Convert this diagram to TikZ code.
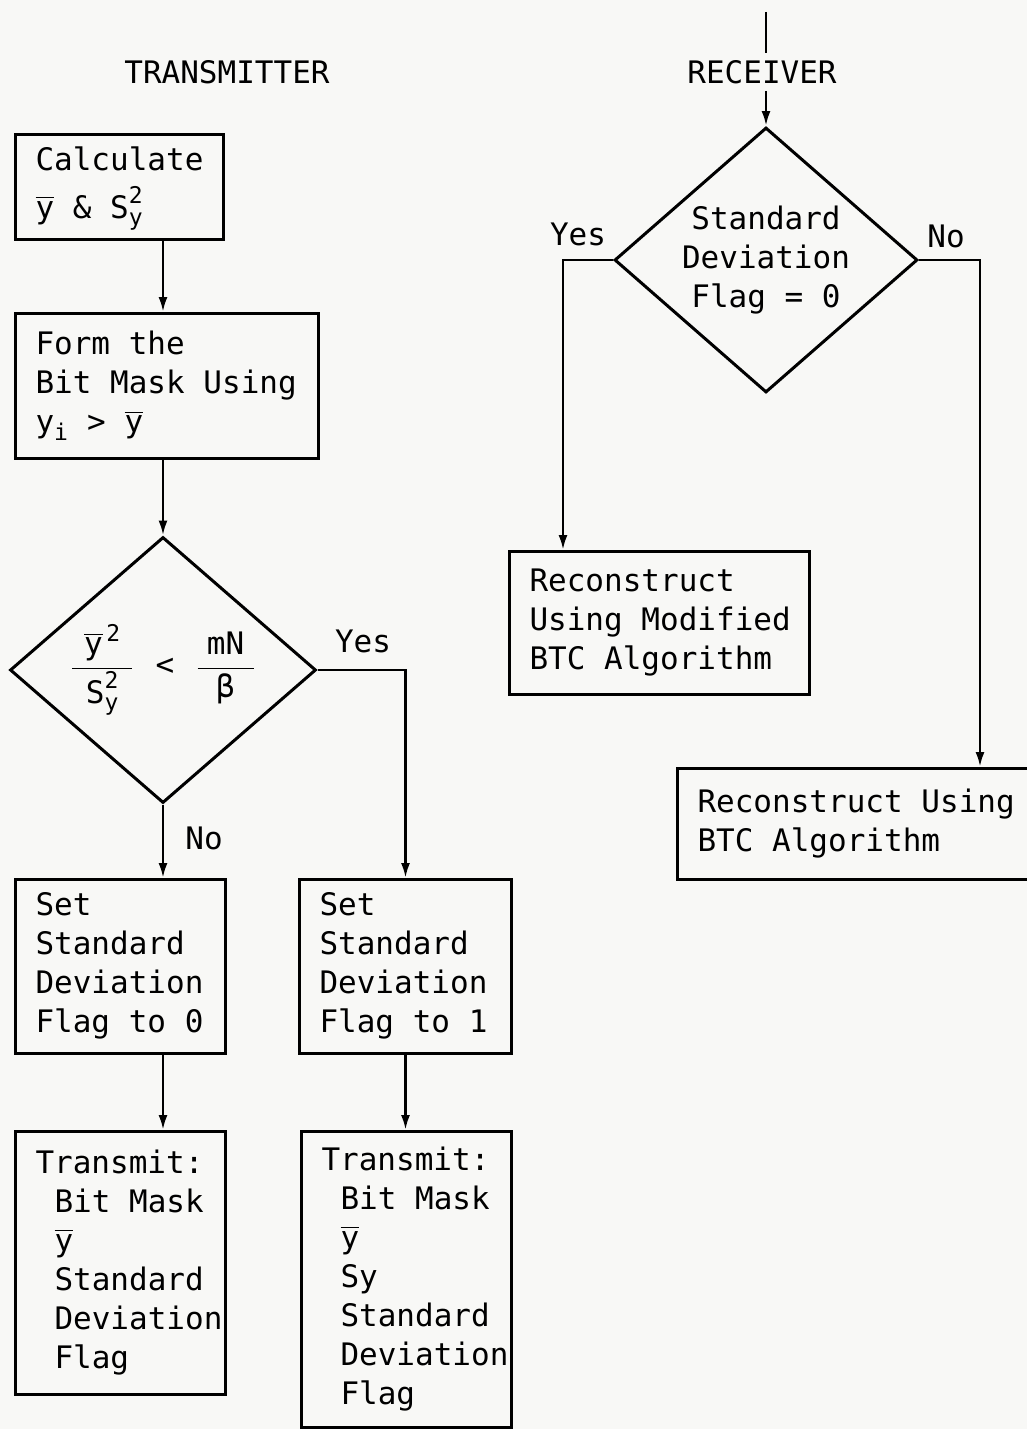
\RequirePackage{fix-cm}
\documentclass[tikz,border=0pt]{standalone}
\usepackage{amsmath}
\usepackage{fontspec}
\setmainfont{DejaVu Sans Mono}
\usetikzlibrary{shapes.geometric,arrows.meta}
\definecolor{bg}{RGB}{248,248,246}
\newcommand\sm[1]{\mbox{\fontsize{23}{23}\selectfont #1}}
\newcommand\ov{\ensuremath{\overline{\mbox{y}}}}
\newcommand\tb[2]{\makebox[#1][l]{\begin{tabular}{@{}l@{}}#2\end{tabular}}}
\newcommand\ind{\hspace*{19pt}}
\newcommand\fw[2]{\hbox to #1{\hss#2\hss}}
\begin{document}
\begin{tikzpicture}[x=1pt,y=-1pt,font=\fontsize{31}{39}\selectfont,
  box/.style={draw,line width=3pt,anchor=north west,inner xsep=20pt,inner ysep=0pt},
  dec/.style={draw,shape=diamond,line width=3pt,inner sep=0pt,align=center,shape aspect=1.14},
  lab/.style={inner sep=2pt},
  arr/.style={line width=2.6pt,-{Latex[length=15pt,width=9pt]}},
  ln/.style={line width=2.6pt}]
\fill[bg] (0,0) rectangle (1027,1429);
\useasboundingbox (0,0) rectangle (1027,1429);

% titles
\node[lab] (tlab) at (227,72) {TRANSMITTER};
\node[inner sep=7pt] (rlab) at (762,72) {RECEIVER};

% transmitter
\node[box,minimum height=105pt] (calc) at (14,133)
  {\tb{168pt}{Calculate\\[4pt]\ov{} \& $\mbox{S}^{\sm{2}}_{\sm{y}}$}};
\node[box,minimum height=145pt] (form) at (14,312)
  {\tb{263pt}{Form the\\Bit Mask Using\\$\mbox{y}_{\sm{i}}$ > \ov}};
\node[dec,minimum width=306pt,minimum height=266pt] (d1) at (163,670)
  {$\dfrac{\fw{60pt}{$\overline{\mbox{y}}^{\,\sm{2}}$}}{\fw{60pt}{$\mbox{S}^{\sm{2}}_{\sm{y}}$}}\hspace{22pt}\mbox{<}\hspace{22pt}\dfrac{\fw{56pt}{mN}}{\fw{56pt}{β}}$};
\node[box,minimum height=174pt] (set0) at (14,878)
  {\tb{170pt}{Set\\Standard\\Deviation\\Flag to 0}};
\node[box,minimum height=174pt] (set1) at (298,878)
  {\tb{172pt}{Set\\Standard\\Deviation\\Flag to 1}};
\node[box,minimum height=263pt] (tx0) at (14,1130)
  {\tb{170pt}{Transmit:\\\ind Bit Mask\\\ind\ov\\\ind Standard\\\ind Deviation\\\ind Flag}};
\node[box,minimum height=296pt] (tx1) at (300,1130)
  {\tb{170pt}{Transmit:\\\ind Bit Mask\\\ind\ov\\\ind Sy\\\ind Standard\\\ind Deviation\\\ind Flag}};

\node[lab] (yes1) at (363,641) {Yes};
\node[lab] (no1) at (204,838) {No};

\draw[arr] (calc.south -| d1.north) -- (form.north -| d1.north);
\draw[arr] (form.south -| d1.north) -- (d1.north);
\draw[arr] (d1.south) -- (d1.south |- set0.north);
\draw[arr] (d1.east) -| (set1.north);
\draw[arr] (set0.south -| d1.south) -- (tx0.north -| d1.south);
\draw[arr] (set1.south) -- (set1.south |- tx1.north);

% receiver
\node[dec,minimum width=303pt,minimum height=265pt] (d2) at (766,260)
  {Standard\\Deviation\\Flag = 0};
\node[box,minimum height=143pt] (rm) at (508,550)
  {\tb{260pt}{Reconstruct\\Using Modified\\BTC Algorithm}};
\node[box,minimum height=111pt] (rb) at (676,767)
  {\tb{360pt}{Reconstruct Using\\BTC Algorithm}};

\node[lab] (yes2) at (578,234) {Yes};
\node[lab] (no2) at (946,236) {No};

\coordinate (rtop) at (766,12);
\draw[ln] (rtop) -- (rtop |- rlab.north);
\draw[arr] (rtop |- rlab.south) -- (d2.north);
\coordinate (yc) at (563,260);
\coordinate (nc) at (980,260);
\draw[arr] (d2.west) -- (yc) -- (yc |- rm.north);
\draw[arr] (d2.east) -- (nc) -- (nc |- rb.north);
\end{tikzpicture}
\end{document}
